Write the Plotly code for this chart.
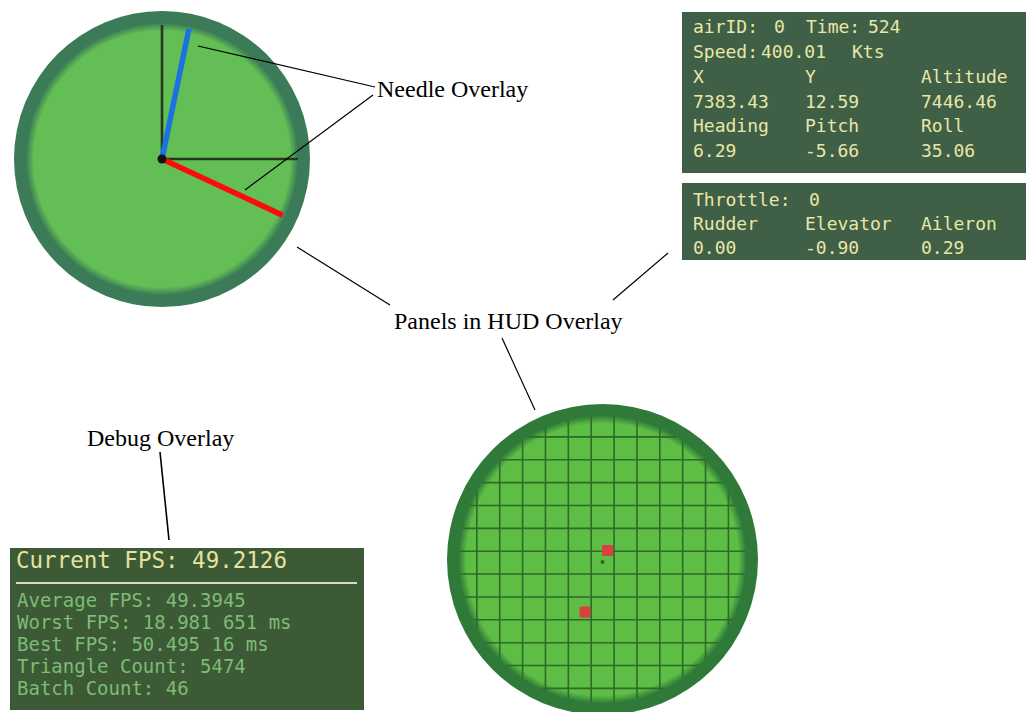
import math
import plotly.graph_objects as go

W, H = 1026, 712

# ---------------- data ----------------
label_texts = ["Needle Overlay", "Panels in HUD Overlay", "Debug Overlay"]

needle_bearing_deg = [11.7, 115.0]      # blue (heading), red (roll)
needle_length = [133, 133]
needle_colors = ["#1c72e2", "#ff0a0a"]

status_panel_rows = [
    ["airID:", "0", "Time:", "524"],
    ["Speed:", "400.01", "Kts"],
    ["X", "Y", "Altitude"],
    ["7383.43", "12.59", "7446.46"],
    ["Heading", "Pitch", "Roll"],
    ["6.29", "-5.66", "35.06"],
]
control_panel_rows = [
    ["Throttle:", "0"],
    ["Rudder", "Elevator", "Aileron"],
    ["0.00", "-0.90", "0.29"],
]
debug_title = "Current FPS: 49.2126"
debug_lines = [
    "Average FPS: 49.3945",
    "Worst FPS: 18.981 651 ms",
    "Best FPS: 50.495 16 ms",
    "Triangle Count: 5474",
    "Batch Count: 46",
]
radar_blip_dx = [5, -17.5]
radar_blip_dy = [-9, 52.5]

# ---------------- layout geometry ----------------
gauge_c = (162, 159)
gauge_r_out, gauge_r_in = 148, 133
radar_c = (602.5, 559.5)
radar_r_out, radar_r_in = 155.5, 141
grid_step = 22.87
grid_x0, grid_y0 = 591.2, 551.2

status_box = (682, 12, 1030, 173)
control_box = (682, 183, 1030, 260)
debug_box = (10, 548, 364, 710)

status_row_y = [26, 51, 76, 101, 125, 150]
status_row_x = [
    [691, 772, 804, 866],
    [691, 759, 850],
    [691, 803, 919],
    [691, 803, 919],
    [691, 803, 919],
    [691, 803, 919],
]
control_row_y = [199, 223, 247]
control_row_x = [[691, 807], [691, 803, 919], [691, 803, 919]]

fig = go.Figure()
shapes = []


def circle(c, r, color):
    shapes.append(dict(type="circle", xref="x", yref="y", x0=c[0] - r, y0=c[1] - r,
                       x1=c[0] + r, y1=c[1] + r, fillcolor=color,
                       line=dict(width=0), layer="below"))


def seg(p, q, color="black", width=1.2):
    shapes.append(dict(type="line", xref="x", yref="y", x0=p[0], y0=p[1], x1=q[0], y1=q[1],
                       line=dict(color=color, width=width), layer="below"))


def rect(b, color):
    shapes.append(dict(type="rect", xref="x", yref="y", x0=b[0], y0=b[1], x1=b[2], y1=b[3],
                       fillcolor=color, line=dict(width=0), layer="below"))


def mix(a, b, t):
    a = [int(a[i:i + 2], 16) for i in (1, 3, 5)]
    b = [int(b[i:i + 2], 16) for i in (1, 3, 5)]
    return "#" + "".join("%02x" % round(a[i] + (b[i] - a[i]) * t) for i in range(3))


def ring_disk(c, r_out, r_in, ring_col, in_col):
    circle(c, r_out, ring_col)
    steps = 5
    for k in range(steps):
        t = (k + 1) / steps
        circle(c, r_in + 4 - 8 * t, mix(ring_col, in_col, t))


# ---- top-left gauge ----
ring_disk(gauge_c, gauge_r_out, gauge_r_in, "#3c7b57", "#63bf55")
seg(gauge_c, (gauge_c[0], 25), "#24391f", 2.6)
seg(gauge_c, (298, gauge_c[1]), "#24391f", 2.6)
for b, L, col in zip(needle_bearing_deg, needle_length, needle_colors):
    a = math.radians(b)
    fig.add_trace(go.Scatter(
        x=[gauge_c[0], gauge_c[0] + L * math.sin(a)],
        y=[gauge_c[1], gauge_c[1] - L * math.cos(a)],
        mode="lines", line=dict(color=col, width=5.5), hoverinfo="skip", showlegend=False))
fig.add_trace(go.Scatter(x=[gauge_c[0]], y=[gauge_c[1]], mode="markers",
                         marker=dict(color="#111111", size=9), hoverinfo="skip", showlegend=False))

# ---- radar ----
ring_disk(radar_c, radar_r_out, radar_r_in, "#2f7a39", "#5dbd45")
rg = radar_r_in + 2
for k in range(-6, 7):
    gx = grid_x0 + k * grid_step
    dx = gx - radar_c[0]
    if abs(dx) < rg:
        h = math.sqrt(rg * rg - dx * dx)
        seg((gx, radar_c[1] - h), (gx, radar_c[1] + h), "#2e6a2a", 1.6)
    gy = grid_y0 + k * grid_step
    dy = gy - radar_c[1]
    if abs(dy) < rg:
        w = math.sqrt(rg * rg - dy * dy)
        seg((radar_c[0] - w, gy), (radar_c[0] + w, gy), "#2e6a2a", 1.6)
fig.add_trace(go.Scatter(
    x=[radar_c[0] + d for d in radar_blip_dx], y=[radar_c[1] + d for d in radar_blip_dy],
    mode="markers", marker=dict(symbol="square", size=11, color="#d9413f", line=dict(width=0)),
    hoverinfo="skip", showlegend=False))
fig.add_trace(go.Scatter(x=[radar_c[0]], y=[radar_c[1] + 2.5], mode="markers",
                         marker=dict(color="#2f6a2d", size=4), hoverinfo="skip", showlegend=False))

# ---- panels ----
rect(status_box, "#3f5f47")
rect(control_box, "#3f5f47")
rect(debug_box, "#3c5a35")
seg((16, 583), (357, 583), "#d6dccb", 2)

# ---- leader lines ----
seg((198, 46), (375, 87))
seg((245, 190), (373, 95))
seg((297, 247), (390, 305))
seg((613, 300), (668, 253))
seg((502, 338), (535, 410))
seg((160, 452), (169, 540), "black", 1.6)

annotations = []


def text(x, y, s, size, color, family):
    annotations.append(dict(x=x, y=y, xref="x", yref="y", text=s, showarrow=False,
                            xanchor="left", yanchor="middle",
                            font=dict(size=size, color=color, family=family)))


mono = "DejaVu Sans Mono"
serif = "Liberation Serif"
text_yellow = "#e9e7a6"

for row, xs, y in zip(status_panel_rows, status_row_x, status_row_y):
    for s, x in zip(row, xs):
        text(x, y, s, 18, text_yellow, mono)
for row, xs, y in zip(control_panel_rows, control_row_x, control_row_y):
    for s, x in zip(row, xs):
        text(x, y, s, 18, text_yellow, mono)

text(14, 560, debug_title, 22.5, "#e6e3a0", mono)
for i, s in enumerate(debug_lines):
    text(15, 600 + 22 * i, s, 19, "#7fbb78", mono)

text(375, 89, label_texts[0], 24, "black", serif)
text(392, 321, label_texts[1], 24, "black", serif)
text(85, 438, label_texts[2], 24, "black", serif)

fig.update_layout(
    width=W, height=H, autosize=False,
    margin=dict(l=0, r=0, t=0, b=0, pad=0),
    paper_bgcolor="white", plot_bgcolor="white",
    xaxis=dict(range=[0, W], visible=False, fixedrange=True),
    yaxis=dict(range=[H, 0], visible=False, fixedrange=True),
    shapes=shapes, annotations=annotations, showlegend=False,
)

fig.write_html("out.html", config={"displayModeBar": False},
               post_script="document.body.style.margin='0';document.body.style.overflow='hidden';")
